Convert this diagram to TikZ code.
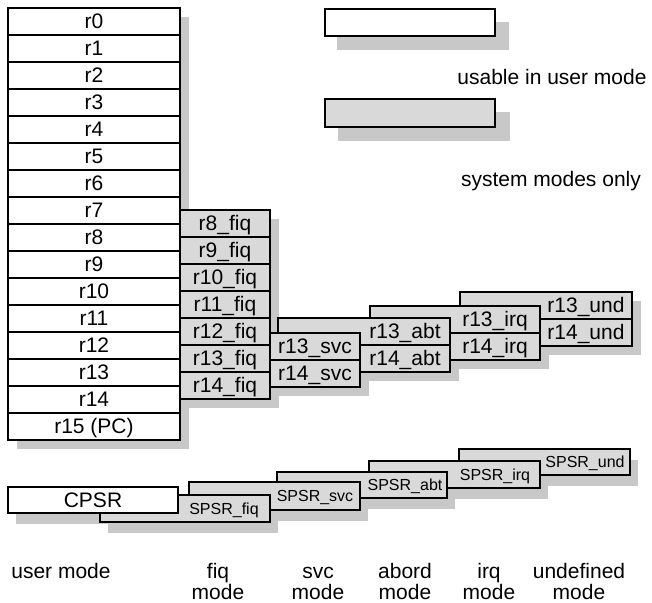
\documentclass[tikz,border=0pt]{standalone}
\usepackage{fontspec}
\setmainfont{Liberation Sans}
\definecolor{sysgray}{RGB}{217,217,217}
\definecolor{shadowc}{RGB}{200,200,200}
\begin{document}
\begin{tikzpicture}[x=1pt,y=-1pt,
  frame/.style={draw=black, line width=1.8pt},
  userbox/.style={frame, fill=white},
  sysbox/.style={frame, fill=sysgray},
  shade/.style={fill=shadowc, draw=none},
  big/.style={font=\fontsize{21}{25}\selectfont, anchor=base, inner sep=0pt},
  small/.style={font=\fontsize{16}{19}\selectfont, anchor=base, inner sep=0pt}]
\useasboundingbox (0,0) rectangle (652,602);
% ---------- shadows (all behind) ----------
\fill[shade] (17,17) rectangle (189,449);    % user
\fill[shade] (107,219) rectangle (279,408);  % fiq
\fill[shade] (197,342) rectangle (369,396);  % svc
\fill[shade] (287,327) rectangle (459,381);  % abt
\fill[shade] (379,315) rectangle (549,369);  % irq
\fill[shade] (469,301) rectangle (641,355);  % und
\fill[shade] (16,497) rectangle (186,524);   % CPSR
\fill[shade] (108,506) rectangle (278,533);  % SPSR fiq
\fill[shade] (197,493) rectangle (368,521);  % SPSR svc
\fill[shade] (285,483) rectangle (455,509);  % SPSR abt
\fill[shade] (377,472) rectangle (548,499);  % SPSR irq
\fill[shade] (467,460) rectangle (638,486);  % SPSR und
\fill[shade] (337,22) rectangle (509,50);    % legend 1
\fill[shade] (338,112) rectangle (510,141);  % legend 2
% ---------- legend ----------
\draw[userbox] (325,9) rectangle (495,36);
\node[big] (leguser) at (552,84) {usable in user mode};
\draw[sysbox] (325,99) rectangle (495,127);
\node[big] (legsys) at (551,186) {system modes only};
% ---------- und ----------
\draw[sysbox] (460,292) rectangle (632,346);
\draw[frame] (460,319) -- (632,319);
\node[big] (r13und) at (586,312.5) {r13\_und};
\node[big] (r14und) at (586,339.5) {r14\_und};
% ---------- irq ----------
\draw[sysbox] (370,306) rectangle (540,360);
\draw[frame] (370,333) -- (540,333);
\node[big] (r13irq) at (495,326.5) {r13\_irq};
\node[big] (r14irq) at (495,353.5) {r14\_irq};
% ---------- abt ----------
\draw[sysbox] (278,318) rectangle (450,372);
\draw[frame] (278,345) -- (450,345);
\node[big] (r13abt) at (405,338.5) {r13\_abt};
\node[big] (r14abt) at (405,365.5) {r14\_abt};
% ---------- svc ----------
\draw[sysbox] (188,333) rectangle (360,387);
\draw[frame] (188,360) -- (360,360);
\node[big] (r13svc) at (315,353.5) {r13\_svc};
\node[big] (r14svc) at (315,380.5) {r14\_svc};
% ---------- fiq ----------
\draw[sysbox] (98,210) rectangle (270,399);
\foreach \i in {1,...,6} \draw[frame] (98,210+27*\i) -- (270,210+27*\i);
\foreach \i [evaluate=\i as \yy using 210+27*(\i-8)+20.5] in {8,...,14}
  \node[big] (r\i fiq) at (225,\yy) {r\i\_fiq};
% ---------- user ----------
\draw[userbox] (8,8) rectangle (180,440);
\foreach \i in {1,...,15} \draw[frame] (8,8+27*\i) -- (180,8+27*\i);
\foreach \i [evaluate=\i as \yy using 8+27*\i+20.5] in {0,...,14}
  \node[big] (r\i) at (94,\yy) {r\i};
\node[big] (r15) at (94,8+27*15+20.5) {r15 (PC)};
% ---------- status registers ----------
\draw[sysbox] (459,449) rectangle (630,475);
\node[small] (spsrund) at (585,467.5) {SPSR\_und};
\draw[sysbox] (369,461) rectangle (540,488);
\node[small] (spsrirq) at (495,480) {SPSR\_irq};
\draw[sysbox] (277,472) rectangle (447,498);
\node[small] (spsrabt) at (405,490.5) {SPSR\_abt};
\draw[sysbox] (189,482) rectangle (360,510);
\node[small] (spsrsvc) at (315,501.5) {SPSR\_svc};
\draw[sysbox] (100,495) rectangle (270,522);
\node[small] (spsrfiq) at (224,514) {SPSR\_fiq};
\draw[userbox] (8,487) rectangle (178,513);
\node[big] (cpsr) at (93,507.5) {CPSR};
% ---------- mode labels ----------
\node[big] (muser) at (61,578) {user mode};
\node[big] (mfiq) at (218,578) {fiq};
\node[big] (mfiq2) at (218,599) {mode};
\node[big] (msvc) at (318,578) {svc};
\node[big] (msvc2) at (318,599) {mode};
\node[big] (mabt) at (405,578) {abord};
\node[big] (mabt2) at (405,599) {mode};
\node[big] (mirq) at (489,578) {irq};
\node[big] (mirq2) at (489,599) {mode};
\node[big] (mund) at (579,578) {undefined};
\node[big] (mund2) at (579,599) {mode};
\end{tikzpicture}
\end{document}
